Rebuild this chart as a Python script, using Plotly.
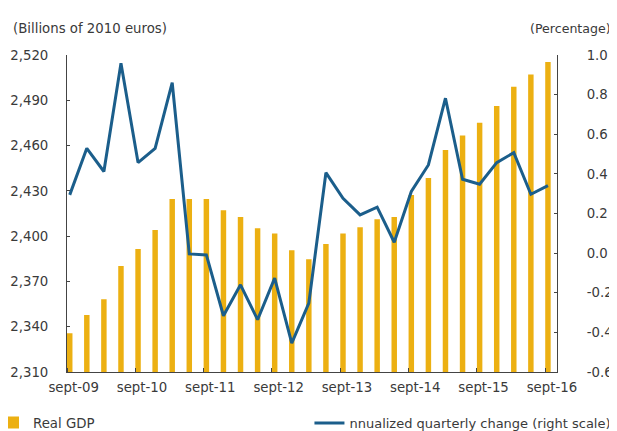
import plotly.graph_objects as go

quarters = list(range(29))  # sept-09 .. sept-16, quarterly
tick_labels = ["sept-09", "sept-10", "sept-11", "sept-12", "sept-13", "sept-14", "sept-15", "sept-16"]
tick_quarters = [0, 4, 8, 12, 16, 20, 24, 28]
right_ticks = [-0.6, -0.4, -0.2, 0.0, 0.2, 0.4, 0.6, 0.8, 1.0]

real_gdp = [2335.7, 2347.8, 2358.2, 2380.3, 2391.5, 2404.1, 2424.6, 2424.6, 2424.6,
            2417.1, 2412.7, 2405.2, 2401.7, 2390.6, 2384.7, 2394.8, 2401.7, 2405.9,
            2411.2, 2412.7, 2427.3, 2438.5, 2457.1, 2466.6, 2475.2, 2486.2, 2499.0,
            2507.0, 2515.4]
annualized_change = [0.294, 0.529, 0.412, 0.958, 0.457, 0.529, 0.860, -0.004, -0.009,
                     -0.316, -0.160, -0.336, -0.126, -0.454, -0.252, 0.406, 0.277, 0.193,
                     0.232, 0.055, 0.311, 0.445, 0.782, 0.373, 0.348, 0.457, 0.507,
                     0.297, 0.341]

FONT = "DejaVu Sans"
FS = 13.3
TXT = "#3a3a3a"
AX = "#444444"
label_off = 0.23
tick_off = -0.16

# page body has an 8px margin, so the figure is sized to the visible area
W, H = 609, 423

fig = go.Figure()
fig.add_trace(go.Bar(
    x=quarters, y=real_gdp, name="Real GDP", width=0.32,
    marker=dict(color="#ECB012", line=dict(width=0)),
    legend="legend", yaxis="y"))
fig.add_trace(go.Scatter(
    x=quarters, y=annualized_change, name="nnualized quarterly change (right scale)",
    mode="lines", line=dict(color="#1B5E8B", width=3),
    legend="legend2", yaxis="y2"))

fig.update_layout(
    width=W, height=H,
    margin=dict(l=59, r=60, t=47, b=59, autoexpand=False),
    paper_bgcolor="white", plot_bgcolor="white",
    font=dict(family=FONT, size=FS, color=TXT),
    showlegend=True,
    xaxis=dict(
        range=[-0.16, 28.53], showgrid=False, zeroline=False,
        showline=True, linecolor=AX, linewidth=1, automargin=False,
        tickmode="array", tickvals=[q + label_off for q in tick_quarters],
        ticktext=tick_labels, ticks="", ticklabelstandoff=3,
        minor=dict(tickmode="array", tickvals=[q + tick_off for q in tick_quarters],
                   ticks="inside", ticklen=4, tickcolor=AX, showgrid=False),
        tickfont=dict(size=FS)),
    yaxis=dict(
        range=[2310, 2520], dtick=30, tick0=2310, tickformat=",",
        showgrid=False, zeroline=False, showline=True, linecolor=AX,
        linewidth=1, ticks="inside", ticklen=3, tickcolor=AX, automargin=False,
        ticklabelstandoff=15, tickfont=dict(size=FS)),
    yaxis2=dict(
        range=[-0.6, 1.0], tickmode="array", tickvals=right_ticks,
        ticktext=[f"{v:.1f}" for v in right_ticks],
        overlaying="y", side="right", automargin=False,
        showgrid=False, zeroline=False, showline=True, linecolor=AX,
        linewidth=1, ticks="inside", ticklen=3, tickcolor=AX,
        ticklabelstandoff=26, tickfont=dict(size=FS)),
    legend=dict(xref="paper", yref="container", x=-0.151, y=0.019,
                xanchor="left", yanchor="middle",
                orientation="h", font=dict(size=FS), bgcolor="rgba(0,0,0,0)"),
    legend2=dict(xref="container", yref="container", x=0.495, y=0.019,
                 xanchor="left", yanchor="middle",
                 orientation="h", font=dict(size=13), itemwidth=30,
                 bgcolor="rgba(0,0,0,0)"),
    annotations=[
        dict(text="(Billions of 2010 euros)", xref="paper", yref="paper",
             x=-0.114, y=1.085, xanchor="left", yanchor="middle", showarrow=False,
             font=dict(size=FS)),
        dict(text="(Percentage)", xref="paper", yref="paper",
             x=1.114, y=1.085, xanchor="right", yanchor="middle", showarrow=False,
             font=dict(size=12.6)),
    ],
)

fig.write_html("out.html")
